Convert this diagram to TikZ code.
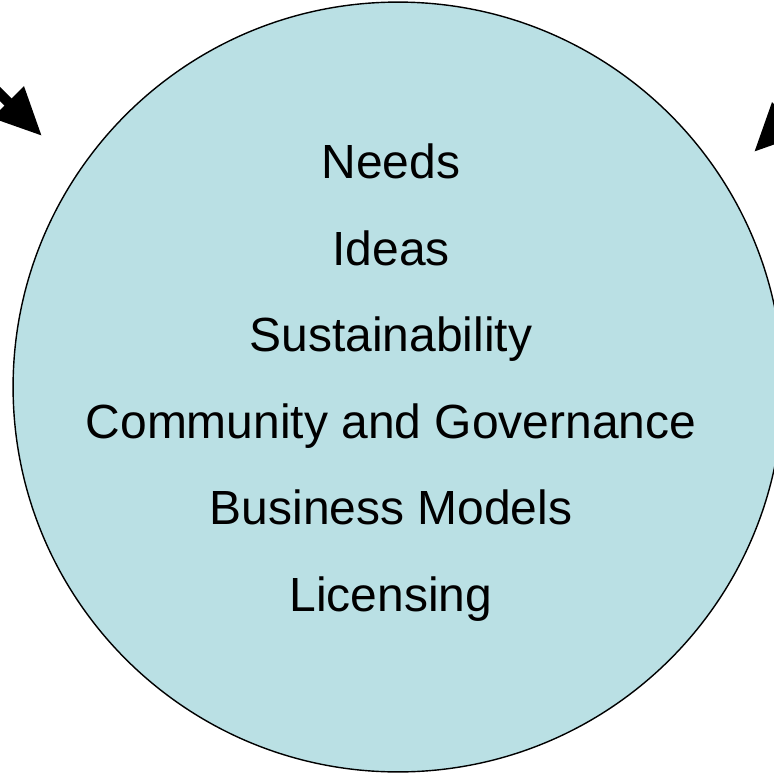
\documentclass[tikz,border=0pt]{standalone}
\usepackage{fontspec}
\setmainfont{Liberation Sans}
\usetikzlibrary{arrows.meta}
\definecolor{topicfill}{RGB}{186,224,228}
\begin{document}
\begin{tikzpicture}[
    x=0.02cm, y=-0.02cm,
    topics/.style={circle, draw, thick, fill=topicfill},
    topic/.style={anchor=base, font=\fontsize{27.3}{32}\selectfont},
    bigarrow/.style={-{Triangle[length=0.96cm, width=0.84cm]}, line width=0.2cm}
]

% Define frame
\useasboundingbox (0,0) rectangle (774,774);

% Big circle
\filldraw[topics] (398,387) circle[radius=7.7cm];

% Topics
\node[topic] (needs) at (391,178) {Needs};
\node[topic] (ideas) at (391,265) {Ideas};
\node[topic] (sustain) at (391,351) {Sustainability};
\node[topic] (community) at (391,438) {Community and Governance};
\node[topic] (business) at (391,524) {Business Models};
\node[topic] (licensing) at (391,611) {Licensing};

% Arrows coming in from outside
\coordinate (lefttip) at (42,136);
\coordinate (leftfrom) at (-60,34);
\coordinate (righttip) at (754,152);
\coordinate (rightfrom) at (856,50);
\draw[bigarrow] (leftfrom) -- (lefttip);
\draw[bigarrow] (rightfrom) -- (righttip);

\end{tikzpicture}
\end{document}
